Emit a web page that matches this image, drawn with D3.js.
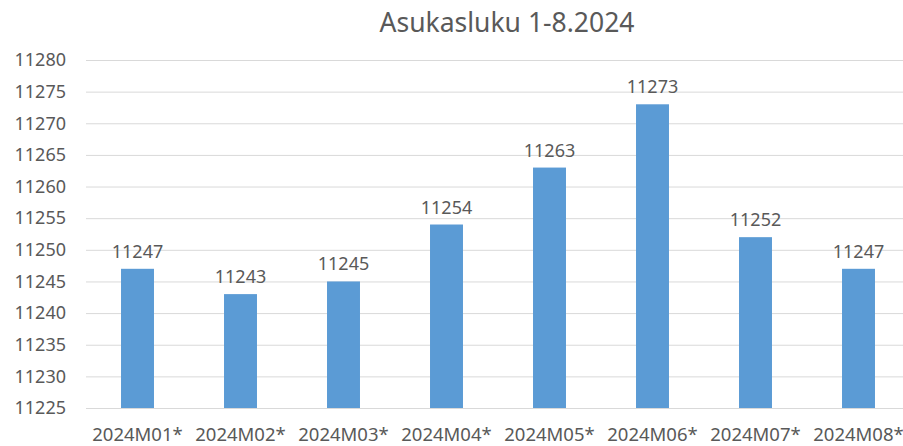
<!DOCTYPE html>
<html>
<head>
<meta charset="utf-8">
<script src="https://cdn.jsdelivr.net/npm/d3@7"></script>
<style>
  body { margin: 0; background: #fff; }
  text { font-family: "Noto Sans", "Open Sans", sans-serif; fill: #595959; }
</style>
</head>
<body>
<div id="chart"></div>
<script>
var categories = ['2024M01*', '2024M02*', '2024M03*', '2024M04*', '2024M05*', '2024M06*', '2024M07*', '2024M08*'];
var values = [11247, 11243, 11245, 11254, 11263, 11273, 11252, 11247];
var yTicks = [11225, 11230, 11235, 11240, 11245, 11250, 11255, 11260, 11265, 11270, 11275, 11280];
var title = 'Asukasluku 1-8.2024';

var width = 903;
var height = 446;

var x = d3.scaleBand()
  .domain(categories)
  .range([86, 910])
  .paddingInner(0.68)
  .paddingOuter(0.34);

var y = d3.scaleLinear()
  .domain([11225, 11280])
  .range([408, 60]);

var svg = d3.select('#chart')
  .append('svg')
    .attr('width', width)
    .attr('height', height);

svg.append('text')
  .attr('x', 507)
  .attr('y', 32)
  .attr('text-anchor', 'middle')
  .style('font-size', '26.5px')
  .text(title);

// gridlines
svg.append('g')
  .selectAll('line')
  .data(yTicks).enter()
  .append('line')
    .attr('x1', 86)
    .attr('x2', width)
    .attr('y1', d => y(d) + 0.5)
    .attr('y2', d => y(d) + 0.5)
    .attr('stroke', '#d9d9d9')
    .attr('stroke-width', 1);

// y labels
svg.append('g')
  .selectAll('text')
  .data(yTicks).enter()
  .append('text')
    .attr('x', 66)
    .attr('y', d => y(d))
    .attr('dy', '0.35em')
    .attr('text-anchor', 'end')
    .style('font-size', '18px')
    .text(d => d);

var bars = svg.append('g');

bars.selectAll('rect')
  .data(values).enter()
  .append('rect')
    .attr('x', (d, i) => x(categories[i]))
    .attr('width', x.bandwidth())
    .attr('y', d => y(d))
    .attr('height', d => y(11225) - y(d))
    .attr('fill', '#5b9bd5');

bars.selectAll('text')
  .data(values).enter()
  .append('text')
    .attr('x', (d, i) => x(categories[i]) + x.bandwidth() / 2)
    .attr('y', d => y(d) - 11)
    .attr('text-anchor', 'middle')
    .style('font-size', '18px')
    .text(d => d);

// x labels
svg.append('g')
  .selectAll('text')
  .data(categories).enter()
  .append('text')
    .attr('x', d => x(d) + x.bandwidth() / 2)
    .attr('y', 441)
    .attr('text-anchor', 'middle')
    .style('font-size', '18.5px')
    .text(d => d);
</script>
</body>
</html>
